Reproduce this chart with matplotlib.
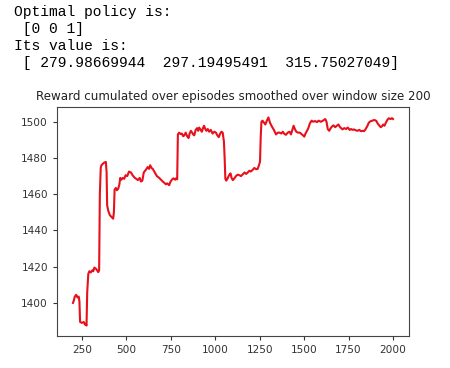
import matplotlib
matplotlib.use('Agg')
import matplotlib.pyplot as plt

# notebook printout above the chart
policy_txt = "Optimal policy is:"
policy_val = " [0 0 1]"
value_txt = "Its value is:"
value_val = " [ 279.98669944  297.19495491  315.75027049]"

title = "Reward cumulated over episodes smoothed over window size 200"

# smoothed reward curve (10 values per row)
episodes = [200, 205, 210, 218, 225, 232, 236, 240, 250, 260,
            268, 272, 276, 280, 286, 292, 300, 308, 314, 320,
            330, 342, 347, 351, 356, 360, 368, 376, 385, 389,
            392, 398, 407, 416, 426, 430, 434, 441, 447, 454,
            460, 466, 472, 480, 488, 496, 505, 515, 526, 535,
            548, 556, 565, 575, 582, 590, 598, 610, 620, 628,
            634, 642, 650, 660, 672, 685, 695, 705, 715, 722,
            730, 741, 748, 756, 765, 775, 782, 786, 790, 797,
            805, 812, 820, 826, 834, 842, 850, 856, 863, 870,
            876, 882, 890, 898, 904, 910, 918, 925, 931, 937,
            944, 950, 958, 966, 975, 985, 995, 1004, 1012, 1020,
            1028, 1035, 1042, 1049, 1053, 1057, 1062, 1070, 1078, 1086,
            1092, 1099, 1108, 1118, 1127, 1136, 1145, 1155, 1165, 1174,
            1183, 1192, 1200, 1211, 1220, 1230, 1239, 1246, 1252, 1256,
            1260, 1266, 1274, 1282, 1290, 1299, 1308, 1318, 1330, 1342,
            1352, 1362, 1372, 1380, 1390, 1398, 1408, 1418, 1426, 1434,
            1441, 1448, 1456, 1466, 1476, 1486, 1494, 1501, 1508, 1516,
            1523, 1532, 1542, 1552, 1562, 1572, 1582, 1594, 1604, 1612,
            1619, 1626, 1633, 1641, 1650, 1658, 1665, 1675, 1684, 1693,
            1700, 1708, 1716, 1726, 1736, 1746, 1756, 1764, 1772, 1780,
            1790, 1800, 1810, 1820, 1830, 1837, 1845, 1855, 1864, 1872,
            1884, 1895, 1906, 1914, 1922, 1931, 1938, 1945, 1952, 1960,
            1968, 1976, 1987, 1994, 2000]
reward = [1400.0, 1401.5, 1403.5, 1404.5, 1403.0, 1403.5, 1401.0, 1389.5, 1389.0, 1389.5,
          1388.0, 1388.5, 1387.5, 1406.0, 1416.0, 1417.5, 1416.8, 1418.0, 1417.5, 1419.5,
          1418.8, 1417.0, 1418.0, 1460.0, 1474.5, 1476.0, 1476.8, 1477.5, 1477.8, 1472.0,
          1454.0, 1451.0, 1448.5, 1447.5, 1446.5, 1450.0, 1462.5, 1463.5, 1462.2, 1463.0,
          1465.0, 1469.0, 1468.0, 1469.0, 1468.5, 1470.5, 1470.0, 1472.5, 1472.0, 1470.5,
          1469.0, 1468.5, 1467.8, 1469.0, 1467.0, 1467.5, 1472.0, 1473.5, 1475.0, 1474.0,
          1476.0, 1474.5, 1473.8, 1472.0, 1470.0, 1469.0, 1468.0, 1467.0, 1466.2, 1465.5,
          1466.0, 1465.0, 1466.8, 1468.0, 1468.8, 1468.0, 1469.0, 1468.2, 1493.0, 1494.0,
          1493.2, 1493.5, 1492.0, 1492.5, 1494.0, 1492.0, 1491.0, 1493.5, 1495.0, 1494.0,
          1493.0, 1492.5, 1495.5, 1496.5, 1495.0, 1496.8, 1495.5, 1494.5, 1496.5, 1497.8,
          1496.0, 1495.0, 1496.0, 1494.5, 1495.5, 1493.5, 1494.5, 1494.0, 1492.5, 1491.5,
          1493.5, 1494.5, 1494.0, 1489.0, 1480.0, 1468.5, 1467.5, 1468.8, 1470.5, 1471.5,
          1469.0, 1467.8, 1468.8, 1470.2, 1470.8, 1470.5, 1470.0, 1471.0, 1472.0, 1471.2,
          1472.0, 1473.0, 1472.5, 1473.5, 1474.5, 1473.8, 1474.0, 1476.0, 1478.0, 1492.0,
          1500.0, 1500.6, 1499.5, 1498.5, 1500.5, 1502.4, 1499.5, 1497.5, 1495.5, 1493.0,
          1494.0, 1494.0, 1493.5, 1494.5, 1493.2, 1492.8, 1494.0, 1494.5, 1493.0, 1495.5,
          1497.8, 1496.0, 1494.5, 1494.0, 1494.0, 1493.2, 1492.5, 1491.8, 1493.5, 1495.0,
          1496.3, 1499.0, 1500.6, 1500.0, 1500.4, 1499.8, 1500.6, 1500.0, 1500.5, 1501.0,
          1501.5, 1500.0, 1496.0, 1495.0, 1496.5, 1497.5, 1498.0, 1497.0, 1497.8, 1498.5,
          1497.3, 1496.5, 1495.8, 1496.5, 1496.0, 1496.8, 1495.5, 1496.0, 1495.5, 1495.8,
          1495.3, 1495.0, 1495.5, 1494.8, 1495.0, 1494.8, 1495.8, 1497.5, 1499.5, 1500.2,
          1500.6, 1501.0, 1500.5, 1499.0, 1498.0, 1497.0, 1497.5, 1498.5, 1497.8, 1499.5,
          1501.0, 1501.9, 1501.5, 1502.0, 1501.5]

fig = plt.figure(figsize=(4.5, 3.68), dpi=100)

# printed text, courier-like
mono = dict(family='Liberation Mono', fontsize=10.5, color='#000000', va='center', ha='left')
fig.text(14/450, 1 - 12/368, policy_txt, **mono)
fig.text(14/450, 1 - 29/368, policy_val, **mono)
fig.text(14/450, 1 - 46/368, value_txt, **mono)
fig.text(14/450, 1 - 63/368, value_val, **mono)

ax = fig.add_axes([57/450, 32/368, 352/450, 229/368])
ax.plot(episodes, reward, color='#e8101a', lw=1.5)
ax.set_title(title, fontsize=8.6, color='#222222', pad=5)
ax.tick_params(labelsize=7.6, colors='#333333', length=3)
ax.set_xticks([250, 500, 750, 1000, 1250, 1500, 1750, 2000])
ax.set_yticks([1400, 1420, 1440, 1460, 1480, 1500])
for s in ax.spines.values():
    s.set_color('#444444')

fig.savefig('out.png', dpi=100)
